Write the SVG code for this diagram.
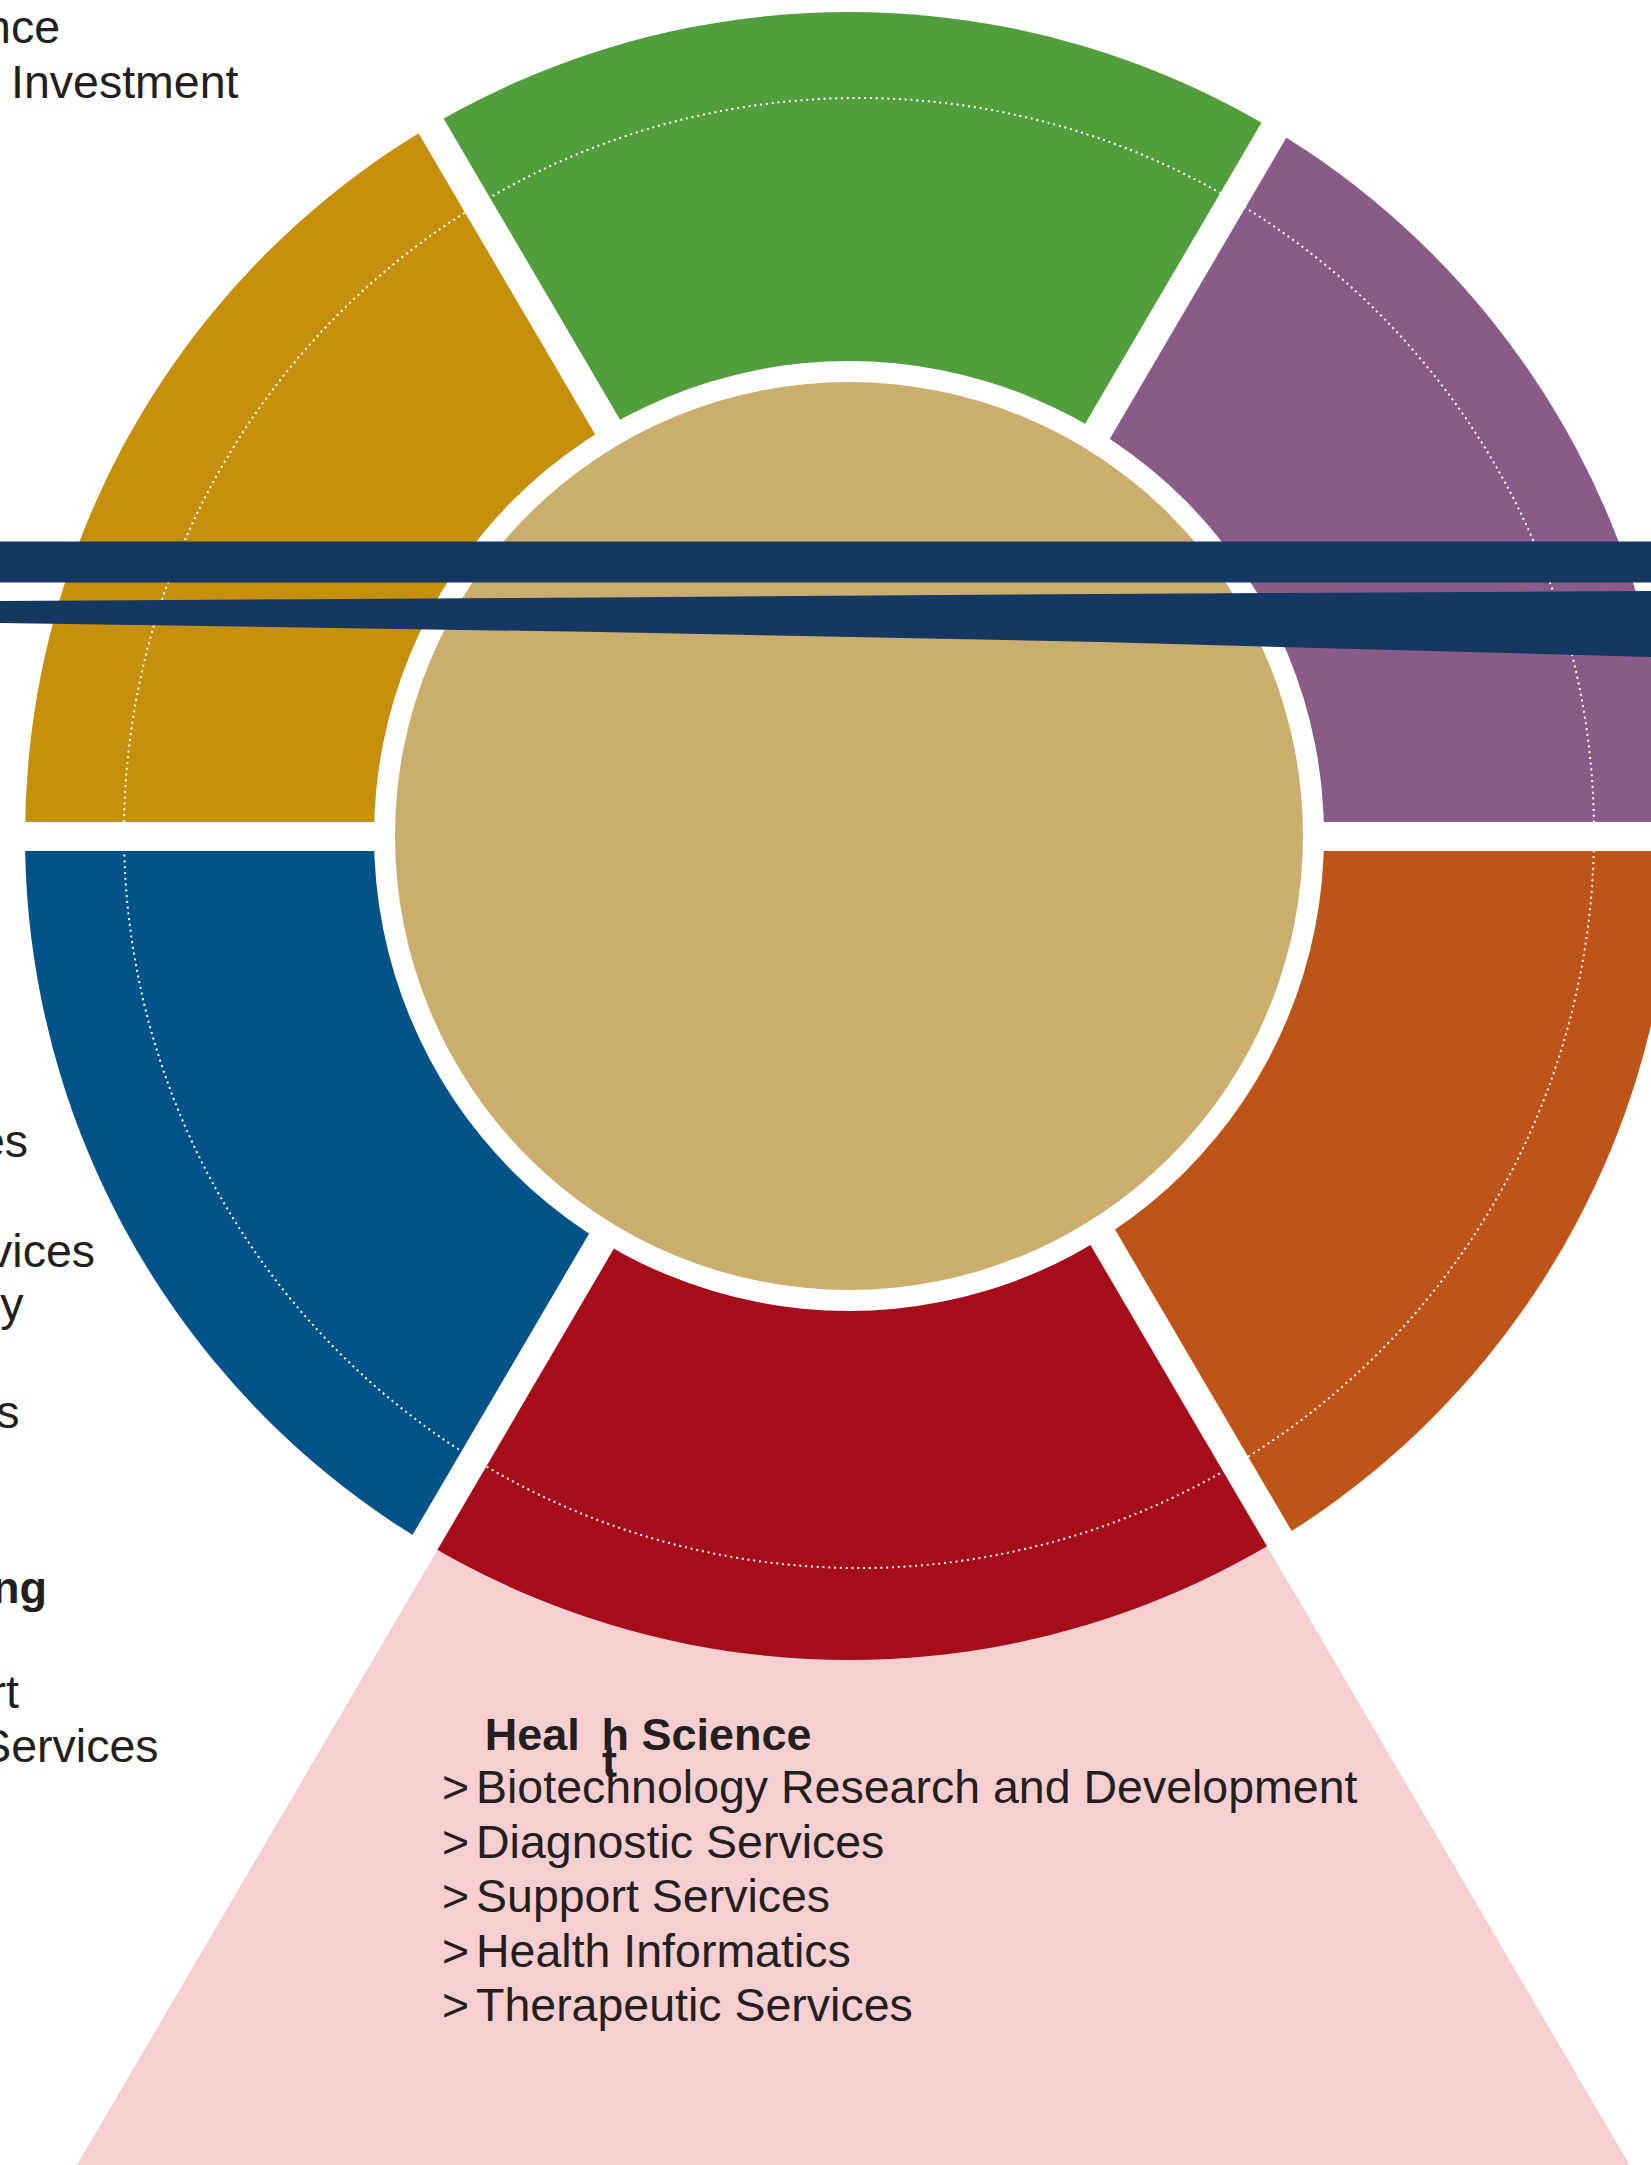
<svg xmlns="http://www.w3.org/2000/svg" width="1651" height="2165" viewBox="0 0 1651 2165">
<defs>
<style>
.t{font-family:"Liberation Sans",Arial,sans-serif;font-size:46.5px;fill:#231f20}
.b{font-family:"Liberation Sans",Arial,sans-serif;font-size:45px;font-weight:bold;fill:#231f20}
.gap{stroke:#ffffff;stroke-width:29;fill:none}
.navy{fill:#143862}
</style>
<clipPath id="ring"><circle cx="849" cy="836" r="824"/></clipPath>
<clipPath id="ringgap"><circle cx="849" cy="836" r="832"/></clipPath>
</defs>
<rect x="0" y="0" width="1651" height="2165" fill="#ffffff"/>
<g id="pink-region">
<polygon points="654.1,1180 1052.4,1180 1629.6,2165 76.9,2165" fill="#f8cfd0"/>
</g>
<g id="ring-segments" clip-path="url(#ring)">
<g id="seg-green"><polygon points="851,836 650.3,500 240.1,-200 1467.4,-200 1057.2,500" fill="#529e3d"/></g>
<g id="seg-purple"><polygon points="851,836 1057.2,500 1467.4,-200 1800,-200 1800,836.5 1280,836.5" fill="#8a5b88"/></g>
<g id="seg-orange"><polygon points="851,836 1280,836.5 1800,836.5 1800,1900 1491.1,1900 1069.2,1180" fill="#bf5418"/></g>
<g id="seg-red"><polygon points="851,836 1069.2,1180 1491.1,1900 215.4,1900 637.3,1180" fill="#a60d1b"/></g>
<g id="seg-blue"><polygon points="851,836 637.3,1180 215.4,1900 -100,1900 -100,836.5 420,836.5" fill="#005289"/></g>
<g id="seg-gold"><polygon points="851,836 420,836.5 -100,836.5 -100,-200 240.1,-200 650.3,500" fill="#c6900c"/></g>
<circle cx="859" cy="833" r="735" fill="none" stroke="#ffffff" stroke-width="2" stroke-dasharray="2 3.8"/>
</g>
<g id="gaps" clip-path="url(#ringgap)">
<line class="gap" x1="650.3" y1="500" x2="240.1" y2="-200"/>
<line class="gap" x1="1057.2" y1="500" x2="1467.4" y2="-200"/>
<line class="gap" x1="637.3" y1="1180" x2="215.4" y2="1900"/>
<line class="gap" x1="1069.2" y1="1180" x2="1491.1" y2="1900"/>
<line class="gap" x1="-100" y1="836.5" x2="1800" y2="836.5" stroke-width="26"/>
</g>
<g id="center">
<circle cx="849" cy="836" r="475" fill="#ffffff"/>
<circle cx="849" cy="836" r="454" fill="#cbae6e"/>
</g>
<g id="connectors">
<rect class="navy" x="0" y="541.5" width="1651" height="41"/>
<polygon class="navy" points="0,601 600,597.5 1100,594 1651,591 1651,657 1100,642 600,632 0,623"/>
</g>
<g id="label-top-left">
<text class="t" x="60" y="43" text-anchor="end">nce</text>
<text class="t" x="11" y="98">Investment</text>
</g>
<g id="label-left">
<text class="t" x="28" y="1157" text-anchor="end">es</text>
<text class="t" x="95" y="1267" text-anchor="end">vices</text>
<text class="t" x="23.5" y="1320" text-anchor="end">y</text>
<text class="t" x="19.5" y="1428" text-anchor="end">s</text>
<text class="b" x="47" y="1603" text-anchor="end">ng</text>
<text class="t" x="19" y="1708" text-anchor="end">rt</text>
<text class="t" x="158.5" y="1762" text-anchor="end">Services</text>
</g>
<g id="label-health-science">
<text class="b" x="484.7" y="1750">Heal</text>
<text class="b" x="601.5" y="1750">h Science</text>
<text class="b" x="602" y="1777" font-size="34">t</text>
<text class="t" y="1803"><tspan x="442">&gt;</tspan><tspan x="476">Biotechnology Research and Development</tspan></text>
<text class="t" y="1857.5"><tspan x="442">&gt;</tspan><tspan x="476">Diagnostic Services</tspan></text>
<text class="t" y="1912"><tspan x="442">&gt;</tspan><tspan x="476">Support Services</tspan></text>
<text class="t" y="1966.5"><tspan x="442">&gt;</tspan><tspan x="476">Health Informatics</tspan></text>
<text class="t" y="2021"><tspan x="442">&gt;</tspan><tspan x="476">Therapeutic Services</tspan></text>
</g>
</svg>
